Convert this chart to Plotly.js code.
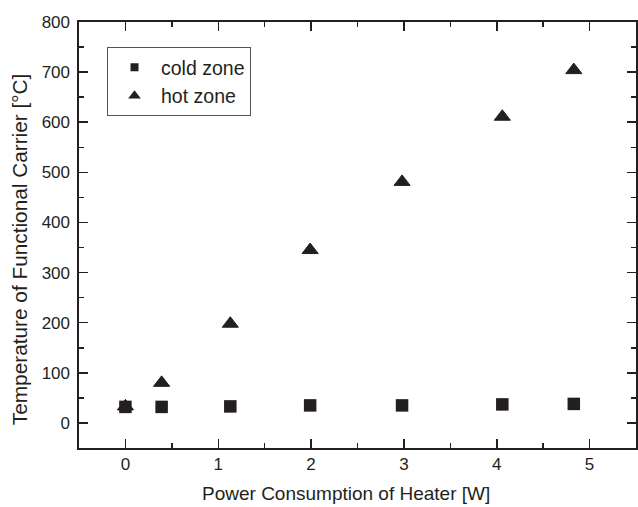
<!DOCTYPE html>
<html><head><meta charset="utf-8">
<script src="https://cdn.plot.ly/plotly-3.0.1.min.js"></script>
<style>body{margin:0;background:#fff}#chart{width:638px;height:507px}</style>
</head><body><div id="chart"></div>
<script>
var power = [0, 0.39, 1.13, 1.99, 2.98, 4.06, 4.83];
var coldZone = [32, 32, 33, 35, 35, 37, 38];
var hotZone = [33, 80, 198, 345, 481, 611, 704];
var xTicks = [0, 1, 2, 3, 4, 5];
var yTicks = [0, 100, 200, 300, 400, 500, 600, 700, 800];
var seriesNames = ['cold zone', 'hot zone'];
var xTitle = 'Power Consumption of Heater [W]';
var yTitle = 'Temperature of Functional Carrier [°C]';

var ink = '#231f20';
var fam = 'Liberation Sans, Arial, sans-serif';
var traces = [
  {x: power, y: coldZone, name: seriesNames[0], mode: 'markers', type: 'scatter', showlegend: false,
   marker: {symbol: 'square', size: 12.5, color: ink}},
  {x: power, y: hotZone, name: seriesNames[1], mode: 'markers', type: 'scatter', showlegend: false,
   marker: {symbol: 'triangle-up', size: 14, color: ink, line: {color: ink, width: 1}}},
  {x: [null], y: [null], name: seriesNames[0], mode: 'markers', type: 'scatter',
   marker: {symbol: 'square', size: 8, color: ink}},
  {x: [null], y: [null], name: seriesNames[1], mode: 'markers', type: 'scatter',
   marker: {symbol: 'triangle-up', size: 11, color: ink}}
];
var layout = {
  width: 638, height: 507,
  margin: {l: 79, r: 2, t: 22, b: 59},
  paper_bgcolor: '#fff', plot_bgcolor: '#fff',
  font: {family: fam, color: ink},
  showlegend: true,
  legend: {x: 0.0503, y: 0.941, xanchor: 'left', yanchor: 'top',
    bordercolor: '#555', borderwidth: 1, bgcolor: '#fff', itemwidth: 43,
    font: {family: fam, size: 19.5, color: ink}, tracegroupgap: 0},
  xaxis: {
    range: [-0.5, 5.5], tickvals: xTicks, ticktext: xTicks.map(String),
    showgrid: false, zeroline: false, showline: true, linecolor: ink, linewidth: 1.6,
    mirror: 'ticks', ticks: 'inside', ticklen: 9, tickwidth: 1.5, tickcolor: ink,
    minor: {dtick: 0.5, ticks: 'inside', ticklen: 5, tickwidth: 1.5, tickcolor: ink, showgrid: false},
    tickfont: {family: fam, size: 17, color: ink}
  },
  yaxis: {
    range: [-50, 800], tickvals: yTicks, ticktext: yTicks.map(String),
    showgrid: false, zeroline: false, showline: true, linecolor: ink, linewidth: 1.6,
    mirror: 'ticks', ticks: 'inside', ticklen: 9, tickwidth: 1.5, tickcolor: ink,
    minor: {dtick: 50, ticks: 'inside', ticklen: 5, tickwidth: 1.5, tickcolor: ink, showgrid: false},
    tickfont: {family: fam, size: 17, color: ink}, ticklabelstandoff: 4
  },
  annotations: [
    {text: xTitle, xref: 'paper', yref: 'paper', x: 0.479, y: 0, xanchor: 'center', yanchor: 'middle',
     yshift: -45, showarrow: false, font: {family: fam, size: 19, color: ink}},
    {text: yTitle, xref: 'paper', yref: 'paper', x: 0, y: 0.4655, xanchor: 'center', yanchor: 'middle',
     xshift: -59.5, textangle: -90, showarrow: false, font: {family: fam, size: 20.8, color: ink}}
  ]
};
Plotly.newPlot('chart', traces, layout, {displayModeBar: false, staticPlot: true});
</script></body></html>
